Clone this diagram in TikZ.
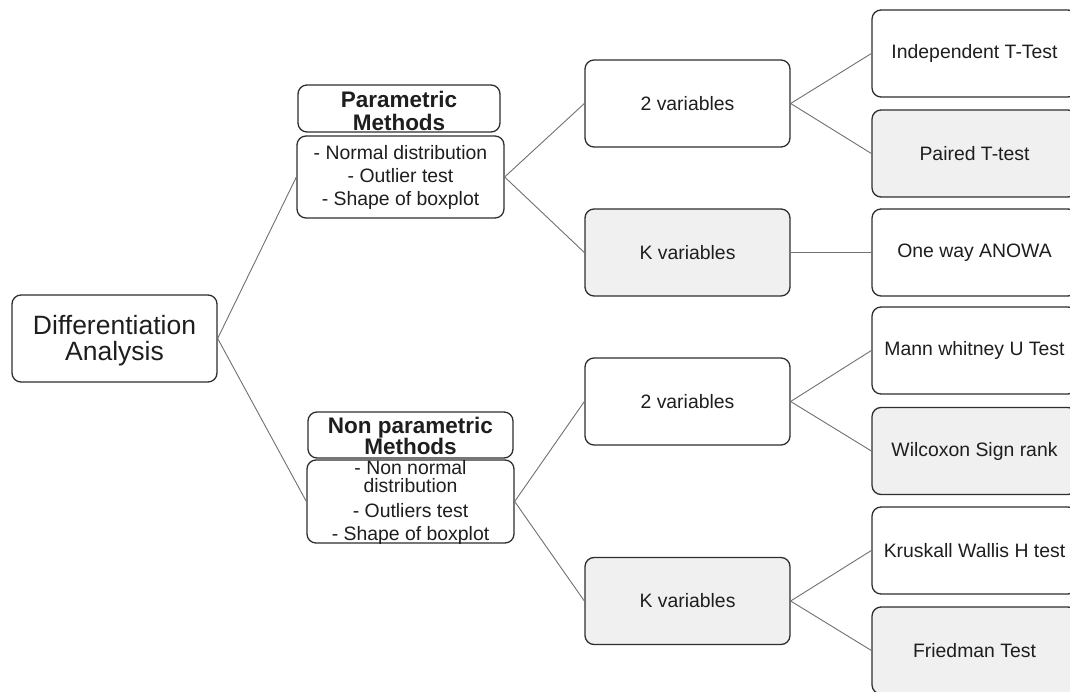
\documentclass[tikz,border=0pt]{standalone}
\usepackage{fontspec}
\setmainfont{Liberation Sans}
\newcommand\stack[2][0pt]{\raisebox{#1}[0pt][0pt]{\begin{tabular}{@{}c@{}}#2\end{tabular}}}
\begin{document}
\begin{tikzpicture}[x=1pt,y=-1pt,
  box/.style={draw=boxline, line width=1.3pt, rounded corners=9pt, fill=white,
    minimum width=205pt, minimum height=87pt, inner sep=0pt, align=center,
    text=txt, font=\fontsize{19.4}{23}\selectfont},
  shaded/.style={box, fill=boxgray},
  head/.style={box, font=\bfseries\fontsize{22.5}{23}\selectfont},
  link/.style={draw=linkgray, line width=0.9pt}]
\definecolor{boxline}{HTML}{2E2E2E}
\definecolor{boxgray}{HTML}{F0F0F0}
\definecolor{linkgray}{HTML}{707070}
\definecolor{txt}{HTML}{1E1E1E}
\useasboundingbox (0,0) rectangle (1070,692);

% root
\node[box, font=\fontsize{26.5}{22.5}\selectfont] (root) at (114.5,338.5)
  {\stack[-9pt]{Differentiation\\Analysis}};

% parametric branch
\node[head, minimum width=202pt, minimum height=47pt] (phead) at (399,108.5)
  {\stack[-11pt]{Parametric\\[-1pt]Methods}};
\node[box, minimum width=207pt, minimum height=82pt] (pbody) at (400.5,177)
  {\stack[-6.5pt]{- Normal distribution\\- Outlier test\\- Shape of boxplot}};

% non parametric branch
\node[head, minimum width=205pt, minimum height=46pt] (nhead) at (410.5,435)
  {\stack[-9.5pt]{Non parametric\\[-2pt]Methods}};
\node[box, minimum width=207pt, minimum height=83pt] (nbody) at (410.5,501.5)
  {\stack[-6.5pt]{- Non normal\\[-5pt]distribution\\[2pt]- Outliers test\\- Shape of boxplot}};

% number of variables
\node[box]    (p2) at (687.5,103.5) {2 variables};
\node[shaded] (pk) at (687.5,252.5) {K variables};
\node[box]    (n2) at (687.5,401.5) {2 variables};
\node[shaded] (nk) at (687.5,601)   {K variables};

% tests (boxes run past the right edge of the page)
\node[box]    (indep)  at (974.5,53.5)  {Independent T-Test};
\node[shaded] (paired) at (974.5,153.5) {Paired T-test};
\node[box]    (anowa)  at (974.5,252.5) {One way ANOWA};
\node[box]    (mann)   at (974.5,350.5) {Mann whitney U Test};
\node[shaded] (wilc)   at (974.5,451)   {Wilcoxon Sign rank};
\node[box]    (krus)   at (974.5,550.5) {Kruskall Wallis H test};
\node[shaded] (fried)  at (974.5,650.5) {Friedman Test};

% connectors
\draw[link] (root.east) -- (pbody.west);
\draw[link] (root.east) -- (nbody.west);
\draw[link] (pbody.east) -- (p2.west);
\draw[link] (pbody.east) -- (pk.west);
\draw[link] (nbody.east) -- (n2.west);
\draw[link] (nbody.east) -- (nk.west);
\draw[link] (p2.east) -- (indep.west);
\draw[link] (p2.east) -- (paired.west);
\draw[link] (pk.east) -- (anowa.west);
\draw[link] (n2.east) -- (mann.west);
\draw[link] (n2.east) -- (wilc.west);
\draw[link] (nk.east) -- (krus.west);
\draw[link] (nk.east) -- (fried.west);
\end{tikzpicture}
\end{document}
